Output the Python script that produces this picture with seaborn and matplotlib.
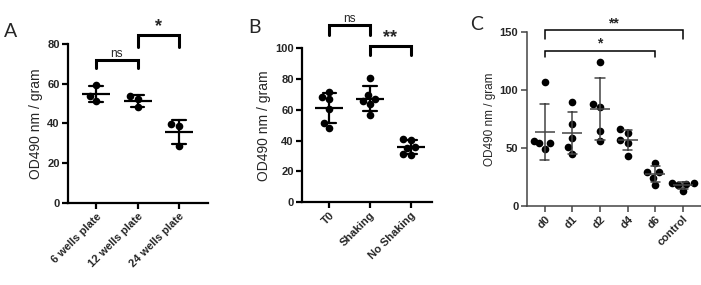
import numpy as np
import pandas as pd
import matplotlib.pyplot as plt
import seaborn as sns

# values
a_groups = ['6 wells plate', '12 wells plate', '24 wells plate']
a_vals = [[59.4, 53.8, 51.3],
          [53.8, 52.2, 48.2],
          [39.9, 38.7, 28.8]]

b_groups = ['T0', 'Shaking', 'No Shaking']
b_vals = [[71.8, 68.1, 66.8, 60.3, 51.6, 48.0],
          [80.9, 67.3, 69.6, 65.9, 63.6, 57.0],
          [40.3, 41.2, 35.6, 35.3, 31.0, 30.8]]

c_groups = ['d0', 'd1', 'd2', 'd4', 'd6', 'control']
c_vals = [[107.0, 56.0, 54.0, 54.0, 49.0],
          [90.0, 70.4, 58.3, 50.5, 44.7],
          [124.3, 85.0, 88.2, 64.6, 56.2],
          [66.0, 63.0, 56.8, 54.5, 43.3],
          [37.2, 28.9, 28.9, 24.2, 17.9],
          [19.9, 19.4, 18.8, 18.0, 12.7]]


def to_df(groups, vals):
    rows = [(g, v) for g, vs in zip(groups, vals) for v in vs]
    return pd.DataFrame(rows, columns=['group', 'od'])


sns.set_style('ticks')
plt.rcParams['font.family'] = ['Liberation Sans', 'DejaVu Sans']

fig = plt.figure(figsize=(7.01, 2.85), dpi=100)


def panel(rect, groups, vals, ylim, yticks, xlim, col, lw, ylab_size,
          dot, mean_w):
    ax = fig.add_axes(rect)
    df = to_df(groups, vals)
    sns.swarmplot(data=df, x='group', y='od', order=groups, color='black',
                  size=dot, ax=ax, zorder=3)
    sns.pointplot(data=df, x='group', y='od', order=groups, errorbar='sd',
                  capsize=0.33, color=col, markers='_', markersize=mean_w,
                  markeredgewidth=lw, linestyle='none',
                  err_kws={'linewidth': lw}, ax=ax, zorder=4)
    ax.set_ylim(*ylim)
    ax.set_yticks(yticks)
    ax.set_xlim(*xlim)
    ax.set_xlabel('')
    ax.set_ylabel('OD490 nm / gram', fontsize=ylab_size, labelpad=3)
    sns.despine(ax=ax)
    for s in ['left', 'bottom']:
        ax.spines[s].set_linewidth(lw)
        ax.spines[s].set_color(col)
    ax.tick_params(width=lw, length=4, color=col, labelsize=8, pad=2)
    for t in ax.get_yticklabels():
        t.set_fontweight('bold')
    ax.set_xticks(range(len(groups)))
    ax.set_xticklabels(groups, rotation=45, ha='right',
                       rotation_mode='anchor', fontweight='bold')
    return ax


def bracket(ax, x1, x2, y, leg, text, lw, fs, bold=True):
    ax.plot([x1, x1, x2, x2], [leg, y, y, leg], color='black', lw=lw,
            clip_on=False, solid_joinstyle='miter')
    ax.text((x1 + x2) / 2, y, text, ha='center', va='bottom',
            fontsize=fs, fontweight='bold' if bold else 'normal')


axA = panel([0.097, 0.2877, 0.2, 0.558], a_groups, a_vals, (0, 80),
            [0, 20, 40, 60, 80], (-0.675, 2.7), 'black', 1.6, 10, 5.5, 20)
bracket(axA, 0, 1, 72, 68, 'ns', 2.2, 8.5, bold=False)
bracket(axA, 1, 2, 84.5, 78.5, '*', 2.2, 13)

axB = panel([0.431, 0.291, 0.185, 0.539], b_groups, b_vals, (0, 100),
            [0, 20, 40, 60, 80, 100], (-0.667, 2.52), 'black', 1.6, 10,
            5.5, 20)
bracket(axB, 0, 1, 115, 108.7, 'ns', 2.2, 8.5, bold=False)
bracket(axB, 1, 2, 101.5, 95.6, '**', 2.2, 13)

axC = panel([0.7513, 0.2782, 0.249, 0.6084], c_groups, c_vals, (0, 150),
            [0, 50, 100, 150], (-0.65, 5.66), '#444444', 1.1, 8.5, 5.5, 14)
bracket(axC, 0, 5, 152, 144, '**', 1.1, 10)
bracket(axC, 0, 4, 134, 128.7, '*', 1.1, 10)

for ax, letter, x, y in [(axA, 'A', 0.006, 0.89), (axB, 'B', 0.354, 0.905),
                         (axC, 'C', 0.67, 0.915)]:
    fig.text(x, y, letter, fontsize=14, family=['Lato', 'DejaVu Sans'],
             va='center')

fig.savefig('out.png', dpi=100)
